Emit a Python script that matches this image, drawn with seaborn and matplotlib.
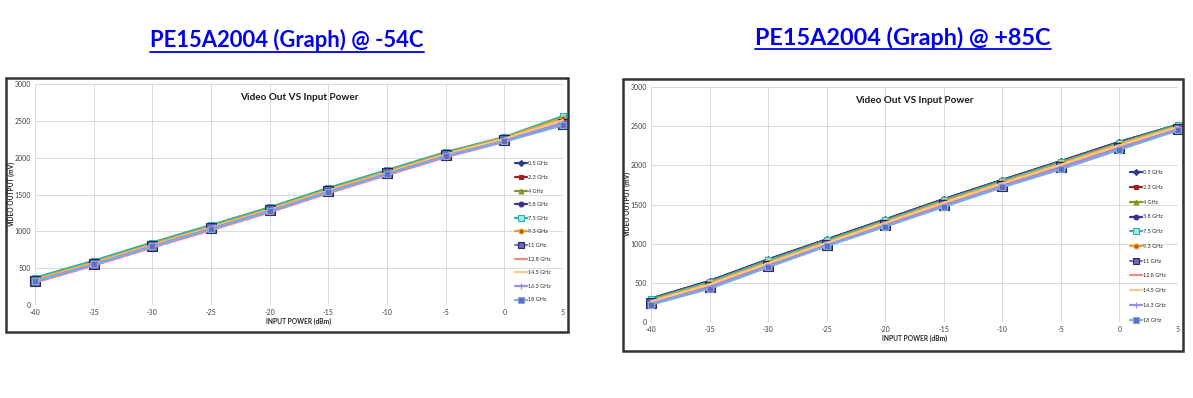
import matplotlib
matplotlib.use("Agg")
import matplotlib.pyplot as plt
import seaborn as sns
from matplotlib.lines import Line2D
from matplotlib.patches import Rectangle

# input power sweep (dBm)
input_power = [-40, -35, -30, -25, -20, -15, -10, -5, 0, 5]

freqs = ["0.5 GHz", "2.3 GHz", "4 GHz", "5.8 GHz", "7.5 GHz", "9.3 GHz",
         "11 GHz", "12.8 GHz", "14.5 GHz", "16.3 GHz", "18 GHz"]

# video output (mV) @ -54C
cold_05 = [360, 590, 838, 1075, 1315, 1578, 1820, 2065, 2268, 2530]
cold_23 = [358, 588, 835, 1072, 1312, 1575, 1817, 2062, 2265, 2525]
cold_4 = [365, 597, 845, 1082, 1322, 1585, 1827, 2072, 2275, 2555]
cold_58 = [355, 585, 832, 1070, 1310, 1572, 1815, 2060, 2262, 2520]
cold_75 = [370, 600, 848, 1085, 1325, 1588, 1830, 2075, 2280, 2565]
cold_93 = [350, 580, 828, 1065, 1305, 1568, 1810, 2058, 2270, 2540]
cold_11 = [330, 560, 805, 1043, 1283, 1545, 1788, 2030, 2235, 2460]
cold_128 = [305, 535, 780, 1015, 1258, 1518, 1762, 2005, 2215, 2470]
cold_145 = [335, 565, 812, 1050, 1290, 1552, 1795, 2042, 2255, 2510]
cold_163 = [325, 555, 800, 1038, 1278, 1540, 1782, 2025, 2228, 2475]
cold_18 = [320, 550, 795, 1032, 1272, 1533, 1776, 2018, 2220, 2440]

# video output (mV) @ +85C
hot_05 = [300, 525, 800, 1055, 1310, 1570, 1815, 2055, 2300, 2520]
hot_23 = [298, 522, 797, 1052, 1307, 1567, 1812, 2052, 2297, 2518]
hot_4 = [292, 515, 790, 1045, 1300, 1560, 1806, 2046, 2290, 2522]
hot_58 = [296, 520, 795, 1050, 1305, 1565, 1810, 2050, 2295, 2516]
hot_75 = [290, 512, 787, 1042, 1297, 1557, 1803, 2043, 2285, 2518]
hot_93 = [275, 495, 765, 1025, 1280, 1540, 1785, 2025, 2275, 2500]
hot_11 = [240, 450, 720, 985, 1235, 1490, 1740, 1975, 2225, 2465]
hot_128 = [255, 470, 740, 1002, 1255, 1512, 1760, 1998, 2245, 2482]
hot_145 = [262, 480, 750, 1010, 1265, 1522, 1770, 2008, 2255, 2490]
hot_163 = [232, 440, 712, 978, 1228, 1482, 1732, 1965, 2215, 2458]
hot_18 = [222, 425, 700, 968, 1218, 1470, 1720, 1950, 2200, 2448]

cold = [cold_05, cold_23, cold_4, cold_58, cold_75, cold_93,
        cold_11, cold_128, cold_145, cold_163, cold_18]
hot = [hot_05, hot_23, hot_4, hot_58, hot_75, hot_93,
       hot_11, hot_128, hot_145, hot_163, hot_18]

# (color, marker, markersize, marker face)
styles = [
    ("#2E3A87", "D", 3, "#2E3A87"),
    ("#9B2226", "s", 3.5, "#9B2226"),
    ("#7E9A1E", "^", 3.5, "#7E9A1E"),
    ("#3B3486", "o", 3.5, "#3B3486"),
    ("#2BB3AE", "s", 4, "#A8E6E3"),
    ("#F0A020", "o", 3.5, "#C05010"),
    ("#7F78CC", "s", 7, "#6A66B5"),
    ("#F08A8A", None, 0, None),
    ("#F8C88E", None, 0, None),
    ("#9A90E0", "+", 4, "#9A90E0"),
    ("#7EA8E2", "s", 5, "#6A6AB8"),
]

sns.set_style("white")
plt.rcParams["font.family"] = ["Lato", "DejaVu Sans"]
plt.rcParams["axes.unicode_minus"] = False

fig = plt.figure(figsize=(11.93, 3.98), dpi=100)
W, H = 1193, 398


def px_axes(x0, y0, x1, y1):
    return fig.add_axes([x0 / W, 1 - y1 / H, (x1 - x0) / W, (y1 - y0) / H])


def draw_chart(ax, data, leg_anchor, spacing):
    for vals, name, (col, mk, ms, mfc) in zip(data, freqs, styles):
        sns.lineplot(x=input_power, y=vals, ax=ax, color=col, linewidth=1.6,
                     marker=mk, markersize=ms, markerfacecolor=mfc,
                     markeredgecolor="#2A2A55" if mk == "s" and ms > 5 else col,
                     markeredgewidth=0.8, label=name, clip_on=False)
    ax.set_xlim(-40, 5)
    ax.set_ylim(0, 3000)
    ax.set_xticks(input_power)
    ax.set_yticks(range(0, 3001, 500))
    ax.grid(True, color="#D9D9D9", linewidth=0.7)
    for s in ax.spines.values():
        s.set_visible(False)
    ax.tick_params(length=0, labelsize=5, colors="#404040", pad=3)
    ax.set_xlabel("INPUT POWER (dBm)", fontsize=4.8, fontweight="bold",
                  color="#262626", labelpad=1)
    ax.set_ylabel("VIDEO OUTPUT (mV)", fontsize=4.8, fontweight="bold",
                  color="#262626")
    ax.yaxis.set_label_coords(-0.038, 0.5)
    ax.text(0.5, 0.96, "Video Out VS Input Power", transform=ax.transAxes,
            ha="center", va="top", fontsize=7.2, fontweight="bold",
            color="#1A1A1A")
    leg = ax.legend(loc="upper left", bbox_to_anchor=leg_anchor,
                    frameon=False, fontsize=4, handlelength=2.2,
                    handletextpad=0.2, labelspacing=spacing, borderaxespad=0)
    for h in leg.legend_handles:
        if h.get_markersize() > 5:
            h.set_markersize(4)


# frames around the two pasted charts
fig.patches.append(Rectangle((6 / W, 1 - 332 / H), 562 / W, 254 / H,
                             transform=fig.transFigure, fill=False,
                             edgecolor="#333333", linewidth=1.8))
fig.patches.append(Rectangle((623 / W, 1 - 351 / H), 560 / W, 272 / H,
                             transform=fig.transFigure, fill=False,
                             edgecolor="#333333", linewidth=1.8))

ax1 = px_axes(35, 84, 563, 305)
draw_chart(ax1, cold, (0.905, 0.66), 1.55)
ax2 = px_axes(651, 87, 1178, 322)
draw_chart(ax2, hot, (0.905, 0.655), 1.75)

# page headings, blue and underlined
t1 = fig.text(287 / W, 1 - 47 / H, "PE15A2004 (Graph) @ -54C", ha="center",
              va="baseline", fontsize=15.8, fontweight="bold", color="#0000EE")
t2 = fig.text(903 / W, 1 - 45 / H, "PE15A2004 (Graph) @ +85C", ha="center",
              va="baseline", fontsize=16.8, fontweight="bold", color="#0000EE")
fig.canvas.draw()
r = fig.canvas.get_renderer()
for t, uy in ((t1, 52), (t2, 49)):
    bb = t.get_window_extent(r).transformed(fig.transFigure.inverted())
    fig.lines.append(Line2D([bb.x0, bb.x1], [1 - uy / H, 1 - uy / H],
                            transform=fig.transFigure, color="#0000EE",
                            linewidth=1.3))

fig.savefig("out.png", dpi=100)
